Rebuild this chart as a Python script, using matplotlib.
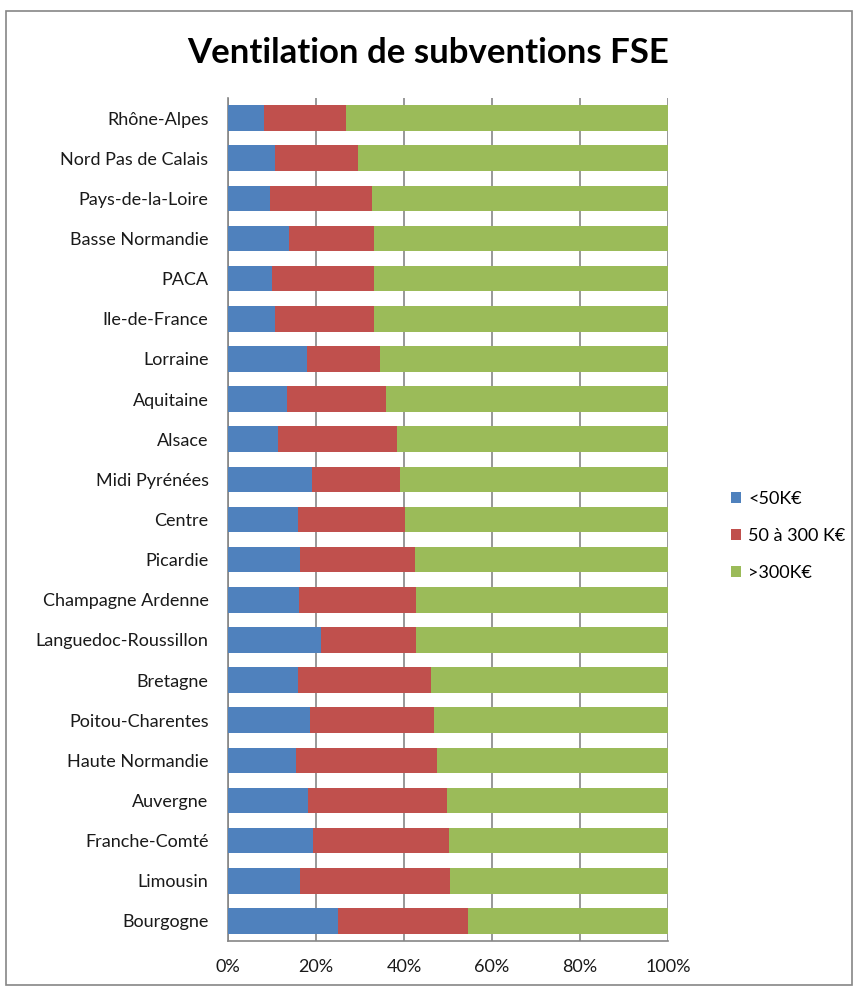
import matplotlib
matplotlib.use("Agg")
import matplotlib.pyplot as plt
from matplotlib.patches import Rectangle
from matplotlib.ticker import PercentFormatter

plt.rcParams['font.family'] = ['Lato', 'DejaVu Sans']

# regions listed bottom to top (as drawn)
regions = ["Bourgogne", "Limousin", "Franche-Comté", "Auvergne", "Haute Normandie",
           "Poitou-Charentes", "Bretagne", "Languedoc-Roussillon", "Champagne Ardenne",
           "Picardie", "Centre", "Midi Pyrénées", "Alsace", "Aquitaine", "Lorraine",
           "Ile-de-France", "PACA", "Basse Normandie", "Pays-de-la-Loire",
           "Nord Pas de Calais", "Rhône-Alpes"]

# share (%) of each bracket
small = [25.1, 16.4, 19.3, 18.2, 15.4, 18.6, 15.8, 21.2, 16.1, 16.4, 15.8,
         19.0, 11.3, 13.5, 17.9, 10.7, 10.0, 13.9, 9.5, 10.7, 8.1]
medium = [29.4, 34.1, 30.9, 31.6, 32.2, 28.3, 30.4, 21.6, 26.7, 26.1, 24.5,
          20.0, 27.2, 22.5, 16.7, 22.4, 23.1, 19.2, 23.3, 18.8, 18.8]
large = [100 - s - m for s, m in zip(small, medium)]

labels = ["<50K€", "50 à 300 K€", ">300K€"]
colors = ["#4F81BD", "#C0504D", "#9BBB59"]

fig = plt.figure(figsize=(8.56, 9.88), dpi=100)
ax = fig.add_axes([228 / 856, 1 - 941 / 988, 440 / 856, 843 / 988])

y = range(len(regions))
left = [0] * len(regions)
for vals, lab, col in zip([small, medium, large], labels, colors):
    ax.barh(y, vals, left=left, height=0.64, color=col, label=lab, zorder=3)
    left = [a + b for a, b in zip(left, vals)]

ax.set_xlim(0, 100)
ax.set_ylim(-0.5, len(regions) - 0.5)
ax.set_xticks([0, 20, 40, 60, 80, 100])
ax.xaxis.set_major_formatter(PercentFormatter(decimals=0))
ax.set_yticks(list(y))
ax.set_yticklabels(regions)
ax.tick_params(axis='both', length=0, labelsize=13, colors='#1a1a1a')
ax.tick_params(axis='y', pad=14)
ax.tick_params(axis='x', pad=13)
ax.grid(axis='x', color='#868686', linewidth=1.2, zorder=0)

for side in ['top', 'right']:
    ax.spines[side].set_visible(False)
for side in ['left', 'bottom']:
    ax.spines[side].set_color('#868686')
    ax.spines[side].set_linewidth(1.2)

fig.text(0.5, 1 - 53 / 988, "Ventilation de subventions FSE", ha='center', va='center',
         fontsize=25, fontweight='bold')

ax.legend(loc='center left', bbox_to_anchor=(722 / 856, 1 - 536 / 988),
          bbox_transform=fig.transFigure, frameon=False, fontsize=13,
          handlelength=0.55, handleheight=0.55, handletextpad=0.4,
          labelspacing=1.15, borderpad=0)

# outer chart border
fig.patches.append(Rectangle((6 / 856, 3 / 988), 846 / 856, 974 / 988,
                             transform=fig.transFigure, fill=False,
                             edgecolor='#868686', linewidth=1.2))

fig.savefig("out.png", dpi=100)
